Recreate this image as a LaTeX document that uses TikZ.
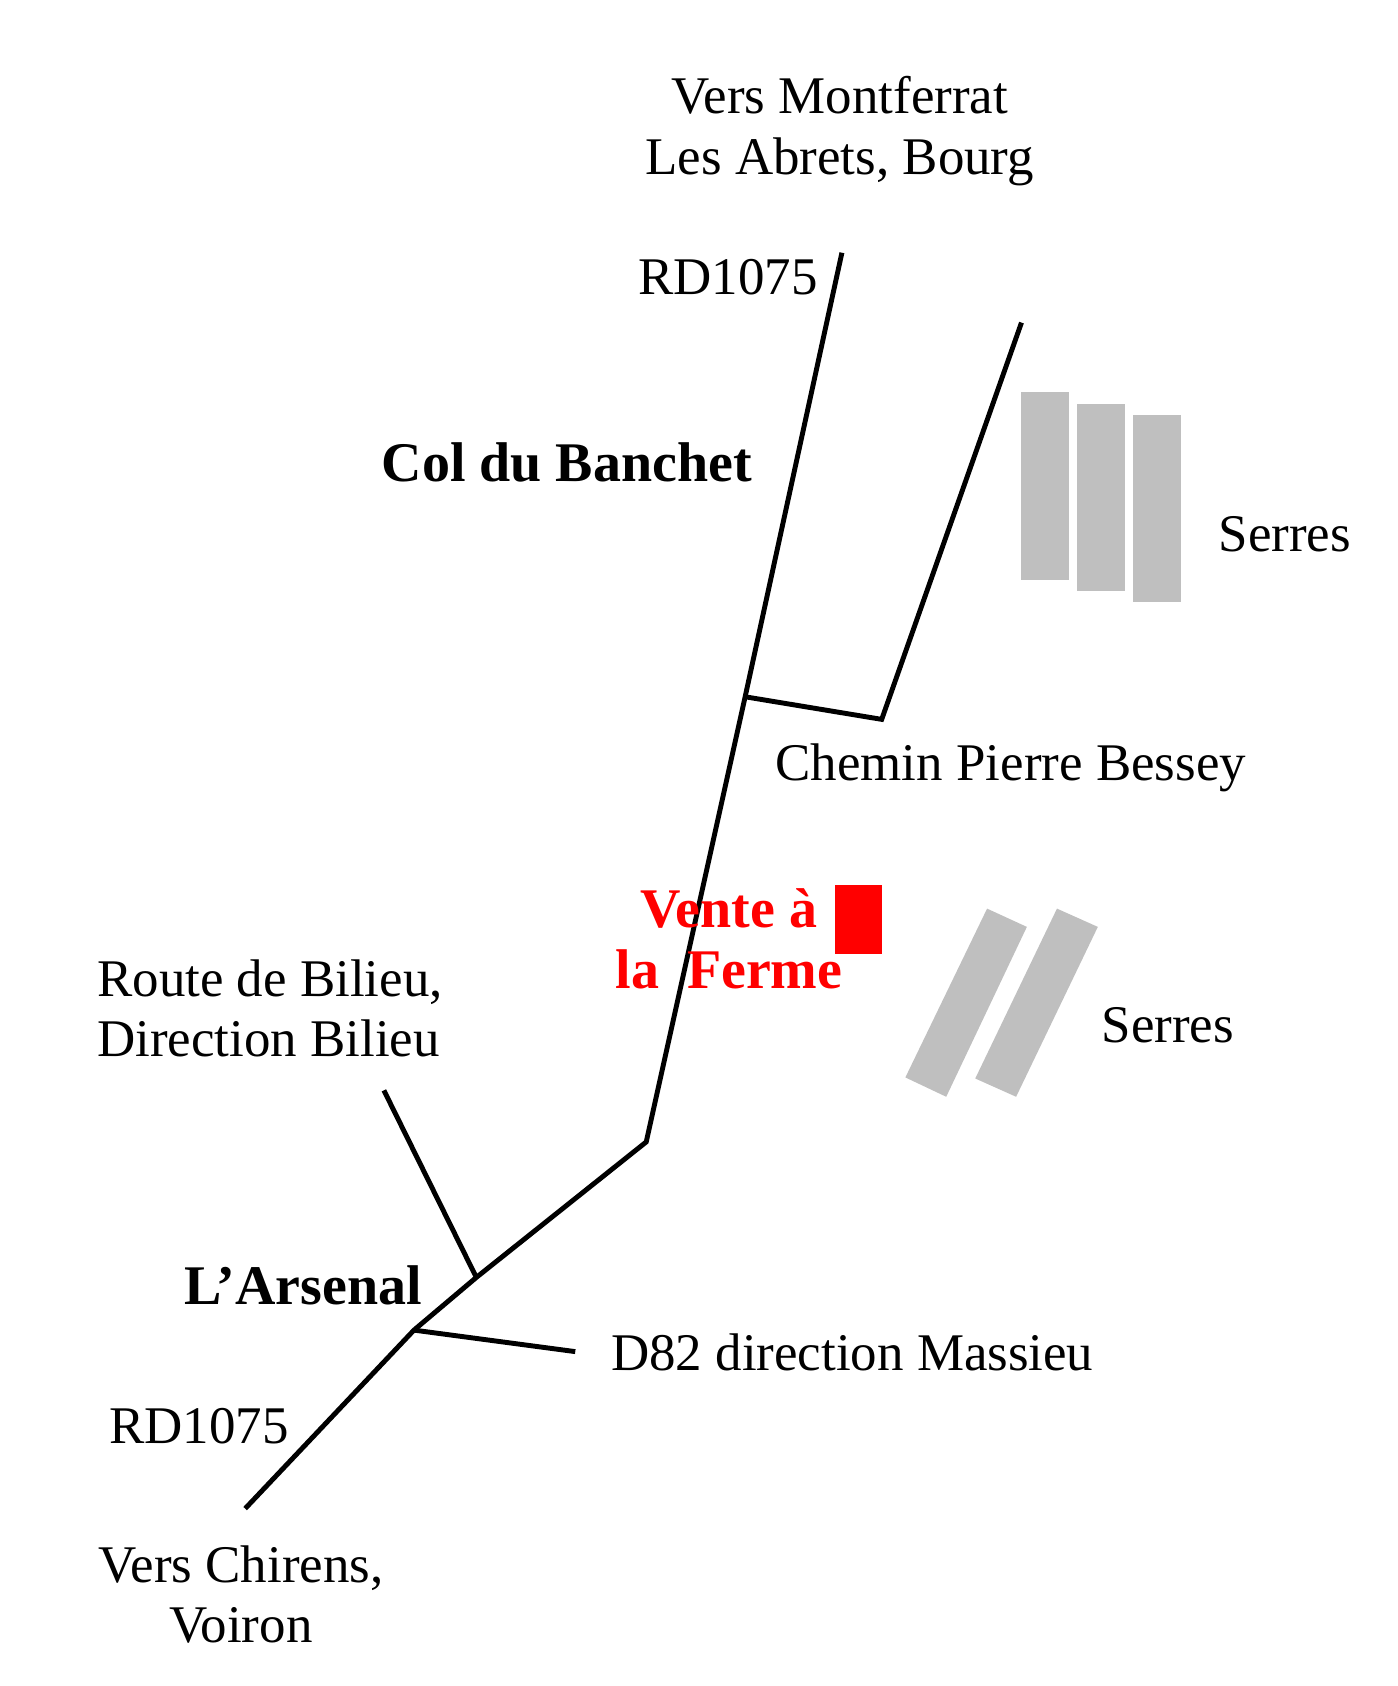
\documentclass[tikz,border=0pt]{standalone}
\usepackage{fontspec}
\setmainfont{Liberation Serif}
\usepackage{xcolor}
\begin{document}
\begin{tikzpicture}[x=0.01cm,y=-0.01cm,
  road/.style={line width=1.3pt},
  lbl/.style={font=\fontsize{14}{16}\selectfont},
  blbl/.style={font=\fontsize{14.8}{16}\selectfont\bfseries},
  serre/.style={fill=gray!50,draw=none}]
            \useasboundingbox (0,0) rectangle (1300,1568);
            % roads
            \coordinate (n) at (783,235);
            \coordinate (c) at (693,648);
            \coordinate (k) at (601,1062);
            \coordinate (b) at (443,1188);
            \coordinate (a) at (385,1237);
            \coordinate (s) at (228,1403);
            \coordinate (p1) at (820,669);
            \coordinate (p2) at (950,300);
            \coordinate (bl) at (357,1014);
            \coordinate (m) at (535,1257);
            \draw[road] (n) -- (c) -- (k) -- (b) -- (a) -- (s);
            \draw[road] (c) -- (p1) -- (p2);
            \draw[road] (b) -- (bl);
            \draw[road] (a) -- (m);
            % serres
            \fill[serre] (950,365) rectangle (994,539);
            \fill[serre] (1002,376) rectangle (1046,550);
            \fill[serre] (1054,386) rectangle (1098,560);
            \fill[serre] (842,1002) -- (880,1020) -- (955,862) -- (918,845) -- cycle;
            \fill[serre] (907,1003) -- (945,1020) -- (1021,862) -- (983,845) -- cycle;
            \fill[red] (777,823) rectangle (820,887);
            % labels
            \node[lbl,align=center] (nord) at (781,122) {Vers Montferrat\\Les Abrets, Bourg};
            \node[lbl] (rdn) at (677,258) {RD1075};
            \node[blbl] (col) at (527,430) {Col du Banchet};
            \node[lbl] (ser1) at (1195,497) {Serres};
            \node[lbl] (chem) at (940,714) {Chemin Pierre Bessey};
            \node[blbl,text=red,align=left,anchor=west] (vente) at (560,873) {\hspace{0.45em}Vente à\\la\ \ Ferme};
            \node[lbl,align=left,anchor=west] (bil) at (78,938) {Route de Bilieu,\\Direction Bilieu};
            \node[lbl] (ser2) at (1086,953) {Serres};
            \node[blbl] (ars) at (282,1195) {L’Arsenal};
            \node[lbl,anchor=west] (d82) at (556,1258) {D82 direction Massieu};
            \node[lbl] (rds) at (185,1326) {RD1075};
            \node[lbl,align=center] (sud) at (224,1483) {Vers Chirens,\\Voiron};
        \end{tikzpicture}
\end{document}
